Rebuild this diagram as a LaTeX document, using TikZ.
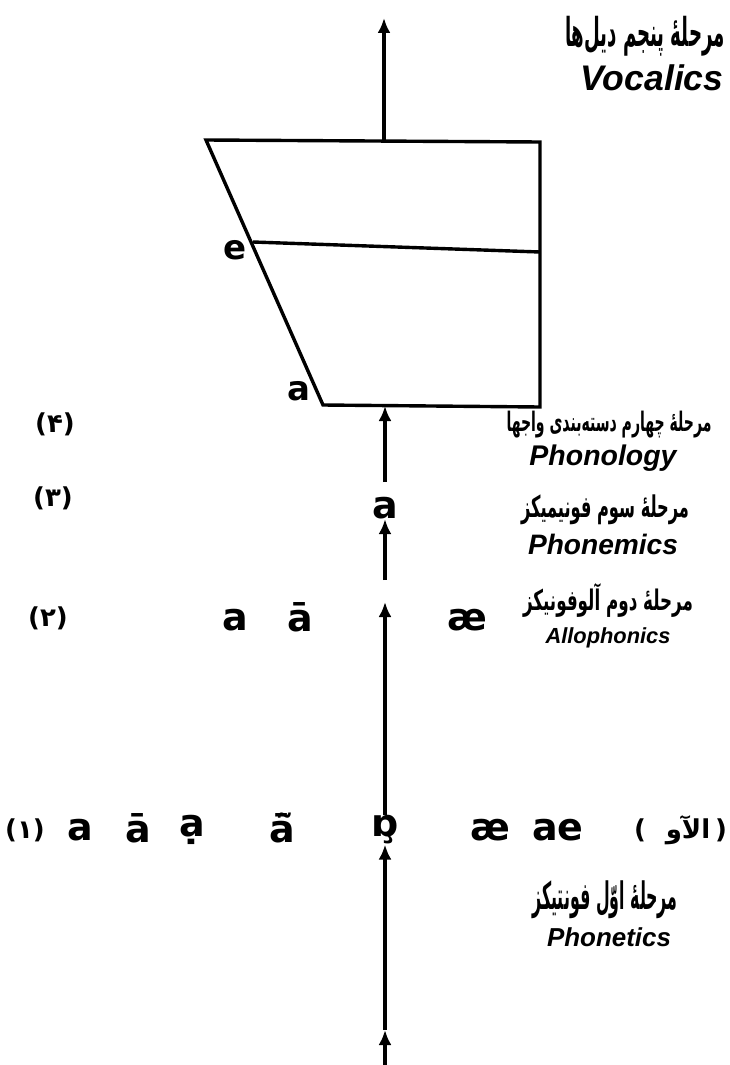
\documentclass[tikz,border=0pt]{standalone}
\usepackage{fontspec}
\usepackage{graphicx}
\setmainfont{DejaVu Sans}
\newfontfamily\arabicfont[Script=Arabic]{DejaVu Sans}
\newfontfamily\handfont{Liberation Sans}
\TeXXeTstate=1
\usetikzlibrary{arrows.meta}
\tikzset{
  ln/.style={line width=3.4pt},
  arr/.style={line width=3.4pt,-{Latex[length=15pt,width=13pt]}},
  sym/.style={font=\bfseries\fontsize{38}{38}\selectfont, inner sep=0pt},
  lab/.style={font=\handfont\bfseries\itshape\fontsize{19}{19}\selectfont, inner sep=0pt},
  fa/.style={font=\arabicfont\bfseries\fontsize{17}{20}\selectfont, inner sep=0pt},
  num/.style={font=\arabicfont\bfseries\fontsize{26}{26}\selectfont, inner sep=0pt},
  par/.style={font=\bfseries\fontsize{26}{26}\selectfont, inner sep=0pt}
}
\newcommand{\fitw}[2]{\resizebox{#1pt}{!}{#2}}
\newcommand{\fitwh}[3]{\resizebox*{#1pt}{#2pt}{#3}}
\begin{document}
\begin{tikzpicture}[x=1pt,y=-1pt]
\useasboundingbox (0,0) rectangle (730,1065);
% vowel chart
\coordinate (TL) at (206,140);
\coordinate (TR) at (540,142);
\coordinate (BR) at (540,407);
\coordinate (BL) at (323,405);
\coordinate (EL) at (253,242);
\coordinate (ER) at (540,252);
\coordinate (TM) at (384,141);
\coordinate (BM) at (385,406);
\coordinate (tip) at (384,18);
\draw[ln, line join=miter] (TL) -- (TR) -- (BR) -- (BL) -- cycle;
\draw[ln] (EL) -- (ER);
\draw[arr] (TM) -- (tip);
\node[sym, font=\bfseries\fontsize{34}{34}\selectfont] (e) at (235,250) {e};
\node[sym, font=\bfseries\fontsize{34}{34}\selectfont] (achart) at (299,391) {a};
% right labels
\node[fa] (f5) at (645,36) {\fitwh{160}{40}{\beginR مرحلهٔ پنجم دیل‌ها\endR}};
\node[lab] (l5) at (652,78) {\fitw{143}{Vocalics}};
\node[fa] (f4) at (609,425) {\fitwh{205}{27}{\beginR مرحلهٔ چهارم دسته‌بندی واجها\endR}};
\node[lab] (l4) at (603,458) {\fitw{147}{Phonology}};
\node[fa] (f3) at (605,510) {\fitwh{168}{30}{\beginR مرحلهٔ سوم فونیمیکز\endR}};
\node[lab] (l3) at (603,544) {\fitw{150}{Phonemics}};
\node[fa] (f2) at (608,600) {\fitwh{170}{34}{\beginR مرحلهٔ دوم آلوفونیکز\endR}};
\node[lab] (l2) at (608,638) {\fitw{125}{Allophonics}};
\node[fa] (f1) at (605,900) {\fitwh{145}{38}{\beginR مرحلهٔ اوّل فونتیکز\endR}};
\node[lab] (l1) at (609,937) {\fitw{124}{Phonetics}};
% level numbers
\node[num] (n4) at (55,424) {(۴)};
\node[num] (n3) at (53,498) {(۳)};
\node[num] (n2) at (48,618) {(۲)};
\node[num] (n1) at (25,830) {(۱)};
% level 3
\node[sym] (a3) at (385,508) {a};
\coordinate (s0) at (385,580);
\coordinate (a3top) at (385,482);
\draw[arr] (a3top) -- (BM);
\draw[arr] (s0) -- (a3.south);
% level 2
\node[sym] (b1) at (235,620) {a};
\node[sym] (b2) at (300,617) {ā};
\node[sym] (b3) at (467,620) {æ};
\coordinate (r2tip) at (385,602);
% level 1
\node[sym] (p1) at (80,830) {a};
\node[sym] (p2) at (138,828) {ā};
\node[sym] (p3) at (192,830) {ạ};
\node[sym] (p4) at (282,828) {ā̃};
\node[sym] (p5) at (385,830) {ɒ̧};
\node[sym] (p6) at (490,830) {æ};
\node[sym] (p7) at (558,830) {ae};
\node[par] (q1) at (640,830) {(};
\node[num] (q2) at (688,830) {\beginR الآو\endR};
\node[par] (q3) at (721,830) {)};
\draw[arr] (p5.north) -- (r2tip);
\coordinate (b0) at (385,1065);
\coordinate (bm) at (385,1030);
\draw[arr] (b0) -- (bm);
\draw[arr] (bm) -- (p5.south);
\end{tikzpicture}
\end{document}
